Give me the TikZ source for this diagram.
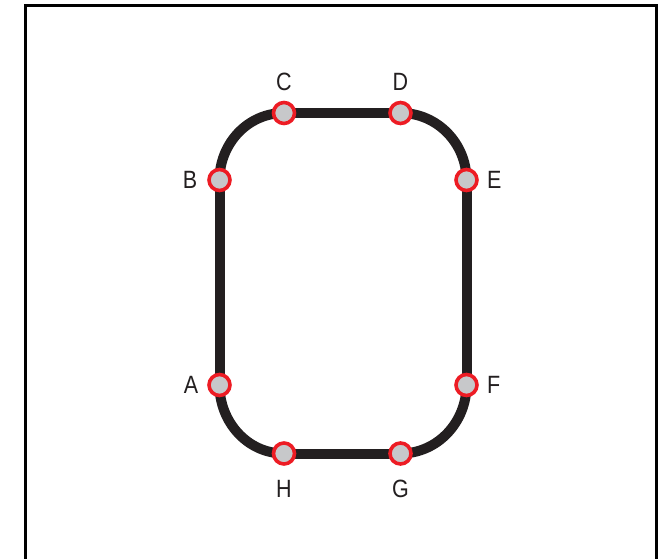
\documentclass[tikz,border=0pt]{standalone}
\usepackage{fontspec}
\setmainfont[FakeStretch=0.86]{Liberation Sans}
\usetikzlibrary{backgrounds}
\definecolor{trackblack}{HTML}{231F20}
\definecolor{stopred}{HTML}{ED1C24}
\definecolor{stopgray}{HTML}{C7C8CA}
\begin{document}
\begin{tikzpicture}[x=1pt,y=1pt,
  station/.style={circle,draw=stopred,fill=stopgray,line width=3.6pt,minimum size=21pt,inner sep=0pt,outer sep=0pt},
  track/.style={draw=trackblack,line width=10pt},
  every label/.style={font=\fontsize{25}{25}\selectfont,text=trackblack,inner sep=0pt}]
\useasboundingbox (0,0) rectangle (660,558);
\clip (0,0) rectangle (660,558);
\draw[line width=3pt] (25,-10) -- (25,552) -- (656.5,552) -- (656.5,-10);
\node[station,label={[label distance=10.5pt]left:A}] (A) at (219.5,173) {};
\node[station,label={[label distance=11.5pt]left:B}] (B) at (219.5,378) {};
\node[station,label={[label distance=12pt]above:C}] (C) at (284,445) {};
\node[station,label={[label distance=12pt]above:D}] (D) at (400.5,445) {};
\node[station,label={[label distance=10pt]right:E}] (E) at (466.5,378) {};
\node[station,label={[label distance=10pt]right:F}] (F) at (466.5,173) {};
\node[station,label={[label distance=16pt]below:G}] (G) at (400.5,104.5) {};
\node[station,label={[label distance=16pt]below:H}] (H) at (284,104.5) {};
\begin{pgfonlayer}{background}
\foreach \u/\v/\o/\i in {A/B/90/270,B/C/90/180,C/D/0/180,D/E/0/90,E/F/270/90,F/G/270/0,G/H/180/0,H/A/180/270}
  \draw[track] (\u.center) to[out=\o,in=\i] (\v.center);
\end{pgfonlayer}
\end{tikzpicture}
\end{document}
